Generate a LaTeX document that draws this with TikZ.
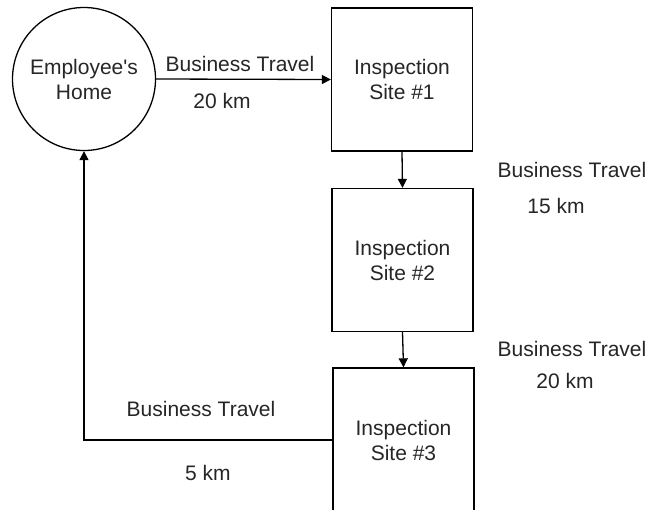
\documentclass[tikz,border=0pt]{standalone}
\usepackage{fontspec}
\setmainfont{Liberation Sans}
\usetikzlibrary{arrows.meta}
\begin{document}
\begin{tikzpicture}[x=1pt,y=-1pt,
  every node/.style={font=\fontsize{21}{25}\selectfont, text=black!85},
  place/.style={draw, line width=1.3pt, circle, minimum size=143pt, inner sep=0pt, align=center},
  site/.style={draw, line width=1.3pt, minimum width=141pt, minimum height=143pt, inner sep=0pt, align=center},
  flow/.style={line width=1.3pt, -{Triangle[length=9pt,width=9pt]}},
  lbl/.style={inner sep=0pt, anchor=center}]
\useasboundingbox (0,0) rectangle (650,509);
\fill[white] (0,0) rectangle (650,509);

\node[place] (home) at (84,79) {Employee\textquotesingle s\\Home};
\node[site] (s1) at (402,79.5) {Inspection\\Site \#1};
\node[site] (s2) at (402.5,260) {Inspection\\Site \#2};
\node[site, minimum height=144pt] (s3) at (403.5,440) {Inspection\\Site \#3};

\draw[flow] (home.east) -- (s1.west);
\draw[flow] (s1.south) -- (s2.north);
\draw[flow] (s2.south) -- (s3.north);
\draw[flow] (s3.west) -| (home.south);

\node[lbl] (l1a) at (240,64) {Business Travel};
\node[lbl] (l1b) at (222,101) {20 km};
\node[lbl] (l2a) at (572,170) {Business Travel};
\node[lbl] (l2b) at (556,206) {15 km};
\node[lbl] (l3a) at (572,349) {Business Travel};
\node[lbl] (l3b) at (565,381) {20 km};
\node[lbl] (l4a) at (201,409) {Business Travel};
\node[lbl] (l4b) at (208,473) {5 km};
\end{tikzpicture}
\end{document}
